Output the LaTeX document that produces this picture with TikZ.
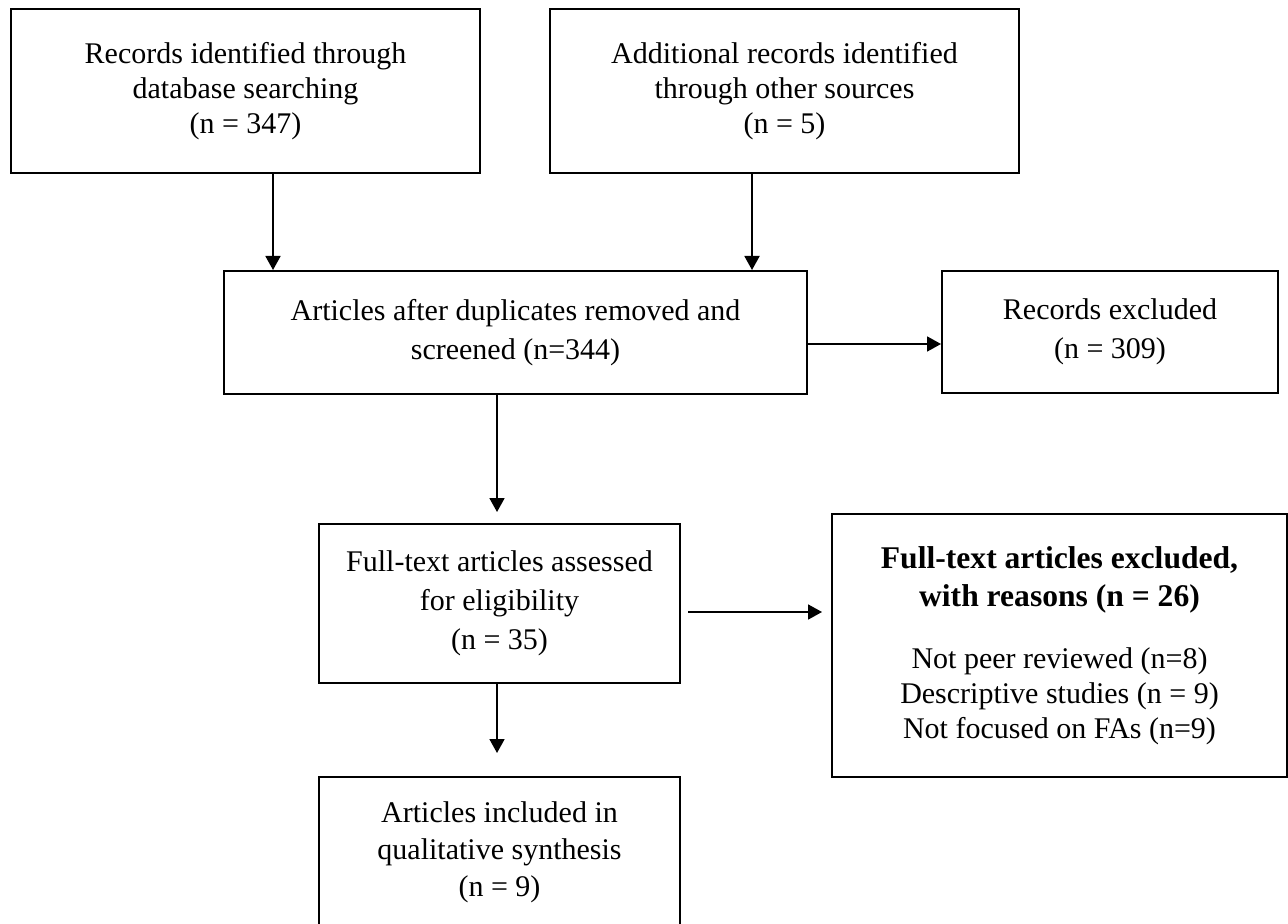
\documentclass[tikz,border=0pt]{standalone}
\usepackage{fontspec}
\setmainfont{Liberation Serif}
\usetikzlibrary{arrows.meta}
\begin{document}
\begin{tikzpicture}[x=0.5pt,y=-0.5pt,
  box/.style={draw, line width=1pt, inner sep=0pt, align=center,
    font=\fontsize{15}{18.5}\selectfont},
  arr/.style={line width=0.9pt, -{Triangle[length=7pt,width=7.5pt]}}]
\useasboundingbox (0,0) rectangle (1288,924);
\clip (0,0) rectangle (1288,924);

\node[box, minimum width=234.5pt, minimum height=82pt,
  font=\fontsize{15}{17.5}\selectfont] (b1) at (245.5,91)
  {Records identified through\\ database searching\\ (n = 347)};
\node[box, minimum width=234.5pt, minimum height=82pt,
  font=\fontsize{15}{17.5}\selectfont] (b2) at (784.5,91)
  {Additional records identified\\ through other sources\\ (n = 5)};
\node[box, minimum width=291.5pt, minimum height=61.5pt,
  font=\fontsize{15}{19.5}\selectfont] (b3) at (515.5,332.5)
  {Articles after duplicates removed and\\ screened (n=344)};
\node[box, minimum width=168pt, minimum height=61pt,
  font=\fontsize{15}{19.5}\selectfont] (b4) at (1110,332)
  {Records excluded\\ (n = 309)};
\node[box, minimum width=180.5pt, minimum height=79.5pt,
  font=\fontsize{15}{19.5}\selectfont] (b5) at (499.5,603.5)
  {Full-text articles assessed\\ for eligibility\\ (n = 35)};
\node[box, minimum width=227.5pt, minimum height=131.5pt,
  font=\fontsize{15}{17.5}\selectfont] (b6) at (1059.5,645.5)
  {{\fontsize{15.8}{17.5}\selectfont\bfseries Full-text articles excluded,}\\[1.5pt]
   {\fontsize{15.8}{17.5}\selectfont\bfseries with reasons (n = 26)}\\[13.5pt]
   Not peer reviewed (n=8)\\ Descriptive studies (n = 9)\\ Not focused on FAs (n=9)};
\node[box, minimum width=180.5pt, minimum height=75pt,
  font=\fontsize{15}{18.5}\selectfont] (b7) at (499.5,852)
  {Articles included in\\ qualitative synthesis\\ (n = 9)};

\draw[arr] (b1.south -| 273,0) -- (b3.north -| 273,0);
\draw[arr] (b2.south -| 752,0) -- (b3.north -| 752,0);
\draw[arr] (b3.east |- 0,344) -- (b4.west |- 0,344);
\draw[arr, shorten >=5.5pt] (b3.south -| 497,0) -- (b5.north -| 497,0);
\draw[arr, shorten <=3.5pt, shorten >=4.5pt] (b5.east |- 0,612) -- (b6.west |- 0,612);
\draw[arr, shorten >=11.5pt] (b5.south -| 497,0) -- (b7.north -| 497,0);
\end{tikzpicture}
\end{document}
